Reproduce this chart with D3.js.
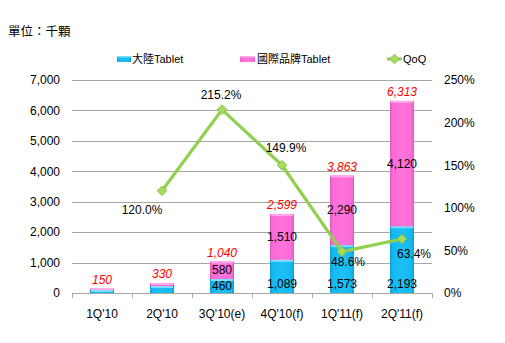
<!DOCTYPE html>
<html>
<head>
<meta charset="utf-8">
<script src="https://cdn.jsdelivr.net/npm/d3@7/dist/d3.min.js"></script>
<style>
  html, body { margin: 0; padding: 0; background: #fff; }
  svg { display: block; font-family: "Liberation Sans", Arial, "Noto Sans CJK TC", sans-serif; }
</style>
</head>
<body>
<svg id="chart" width="505" height="343"></svg>
<script>
// Quarterly tablet shipments (thousand units) and quarter-over-quarter growth
const quarters = ["1Q'10", "2Q'10", "3Q'10(e)", "4Q'10(f)", "1Q'11(f)", "2Q'11(f)"];
const chinaTablet = [100, 230, 460, 1089, 1573, 2193];
const brandTablet = [50, 100, 580, 1510, 2290, 4120];
const totals = [150, 330, 1040, 2599, 3863, 6313];
const qoq = [null, 1.200, 2.152, 1.499, 0.486, 0.634];
const qoqLabels = [null, "120.0%", "215.2%", "149.9%", "48.6%", "63.4%"];
const leftTicks = [0, 1000, 2000, 3000, 4000, 5000, 6000, 7000];
const rightTicks = [0, 0.5, 1.0, 1.5, 2.0, 2.5];
const seriesNames = ["大陸Tablet", "國際品牌Tablet", "QoQ"];
const unitLabel = "單位：千顆";

const svg = d3.select("#chart");
const plot = { left: 72, right: 432, top: 80, bottom: 293 };

const x = d3.scaleBand().domain(quarters).range([plot.left, plot.right])
  .paddingInner(0.6).paddingOuter(0.3);
const step = x.step();
const y = d3.scaleLinear().domain([0, 7000]).range([plot.bottom, plot.top]);
const y2 = d3.scaleLinear().domain([0, 2.5]).range([plot.bottom, plot.top]);

// Gradients giving the bars a bevelled look
const defs = svg.append("defs");
function barGradient(id, edge, mid, light) {
  const g = defs.append("linearGradient").attr("id", id)
    .attr("x1", "0").attr("x2", "1").attr("y1", "0").attr("y2", "0");
  g.append("stop").attr("offset", "0%").attr("stop-color", edge);
  g.append("stop").attr("offset", "12%").attr("stop-color", mid);
  g.append("stop").attr("offset", "50%").attr("stop-color", light);
  g.append("stop").attr("offset", "88%").attr("stop-color", mid);
  g.append("stop").attr("offset", "100%").attr("stop-color", edge);
}
barGradient("gBlue", "#0f9fd6", "#14b9f0", "#1cc0f4");
barGradient("gPink", "#e25cc0", "#fb6bd6", "#ff74da");

// Unit label
svg.append("text").attr("x", 8).attr("y", 36)
  .attr("font-size", 12.5).attr("fill", "#000")
  .style("font-family", "'Noto Sans CJK TC', sans-serif")
  .text(unitLabel);

// Horizontal gridlines
svg.append("g").selectAll("line").data(leftTicks.slice(1)).join("line")
  .attr("x1", plot.left).attr("x2", plot.right)
  .attr("y1", d => Math.round(y(d)) + 0.5).attr("y2", d => Math.round(y(d)) + 0.5)
  .attr("stroke", "#a6a6a6").attr("stroke-width", 1);

// Left axis
const leftAxis = svg.append("g").attr("transform", `translate(${plot.left - 12},0)`)
  .call(d3.axisLeft(y).tickValues(leftTicks).tickSize(0).tickPadding(0)
    .tickFormat(d3.format(",")));
leftAxis.select(".domain").remove();
leftAxis.selectAll("text").attr("font-size", 12).attr("fill", "#000")
  .style("font-family", "'Liberation Sans', Arial, sans-serif");

// Right axis
const rightAxis = svg.append("g").attr("transform", `translate(${plot.right + 12},0)`)
  .call(d3.axisRight(y2).tickValues(rightTicks).tickSize(0).tickPadding(0)
    .tickFormat(d3.format(".0%")));
rightAxis.select(".domain").remove();
rightAxis.selectAll("text").attr("font-size", 12).attr("fill", "#000")
  .style("font-family", "'Liberation Sans', Arial, sans-serif");

// Category axis line with ticks between categories
const xAxisG = svg.append("g");
xAxisG.append("line").attr("x1", plot.left).attr("x2", plot.right)
  .attr("y1", plot.bottom + 0.5).attr("y2", plot.bottom + 0.5)
  .attr("stroke", "#a6a6a6");
const boundaries = quarters.map(q => x(q) - (step - x.bandwidth()) / 2).concat([plot.right]);
xAxisG.selectAll("line.tk").data(boundaries).join("line").attr("class", "tk")
  .attr("x1", d => Math.round(d) + 0.5).attr("x2", d => Math.round(d) + 0.5)
  .attr("y1", plot.bottom).attr("y2", plot.bottom + 5)
  .attr("stroke", "#a6a6a6");
xAxisG.selectAll("text").data(quarters).join("text")
  .attr("x", d => x(d) + x.bandwidth() / 2).attr("y", plot.bottom + 25)
  .attr("text-anchor", "middle").attr("font-size", 12).attr("fill", "#000")
  .text(d => d);

// Stacked bars
const stackData = quarters.map((q, i) => ({ q, china: chinaTablet[i], brand: brandTablet[i] }));
const stacked = d3.stack().keys(["china", "brand"])(stackData);
const fills = { china: "url(#gBlue)", brand: "url(#gPink)" };
const tops = { china: "#7fdcfb", brand: "#ffaaea" };
stacked.forEach(layer => {
  const g = svg.append("g");
  g.selectAll("rect.bar").data(layer).join("rect").attr("class", "bar")
    .attr("x", d => x(d.data.q)).attr("width", x.bandwidth())
    .attr("y", d => y(d[1])).attr("height", d => y(d[0]) - y(d[1]))
    .attr("fill", fills[layer.key]);
  g.selectAll("rect.hl").data(layer).join("rect").attr("class", "hl")
    .attr("x", d => x(d.data.q) + 1).attr("width", x.bandwidth() - 2)
    .attr("y", d => y(d[1]))
    .attr("height", d => Math.min(2, y(d[0]) - y(d[1])))
    .attr("fill", tops[layer.key]);
});

// Segment value labels (only for quarters with room)
const segLabelFrom = 2;
const fmt = d3.format(",");
svg.append("g").selectAll("text").data(stacked[0].slice(segLabelFrom)).join("text")
  .attr("x", d => x(d.data.q) + x.bandwidth() / 2)
  .attr("y", d => Math.max((y(d[0]) + y(d[1])) / 2, y(0) - 9))
  .attr("dy", "0.35em").attr("text-anchor", "middle")
  .attr("font-size", 12).attr("fill", "#000")
  .text(d => fmt(d.data.china));
svg.append("g").selectAll("text").data(stacked[1].slice(segLabelFrom)).join("text")
  .attr("x", d => x(d.data.q) + x.bandwidth() / 2)
  .attr("y", d => (y(d[0]) + y(d[1])) / 2)
  .attr("dy", "0.35em").attr("text-anchor", "middle")
  .attr("font-size", 12).attr("fill", "#000")
  .text(d => fmt(d.data.brand));

// Totals above bars
svg.append("g").selectAll("text").data(quarters).join("text")
  .attr("x", d => x(d) + x.bandwidth() / 2)
  .attr("y", (d, i) => y(totals[i]) - 9)
  .attr("dy", "0.35em").attr("text-anchor", "middle")
  .attr("font-size", 12).attr("font-style", "italic").attr("fill", "#ff0000")
  .text((d, i) => fmt(totals[i]));

// QoQ line
const linePts = quarters.map((q, i) => ({ q, v: qoq[i], label: qoqLabels[i] }))
  .filter(d => d.v !== null);
const cx = d => x(d.q) + x.bandwidth() / 2;
svg.append("path").datum(linePts)
  .attr("d", d3.line().x(cx).y(d => y2(d.v)))
  .attr("fill", "none").attr("stroke", "#92cf50").attr("stroke-width", 3.2)
  .attr("stroke-linejoin", "round");
const diamond = d3.symbol().type(d3.symbolDiamond2).size(60);
svg.append("g").selectAll("path").data(linePts).join("path")
  .attr("transform", d => `translate(${cx(d)},${y2(d.v)})`)
  .attr("d", diamond).attr("fill", "#a5dc5e").attr("stroke", "#7fb83c").attr("stroke-width", 0.8);

// QoQ value labels, placed around each point
const labelOffsets = [[-20, 19], [-1, -15], [4, -17], [6, 10], [12, 15]];
svg.append("g").selectAll("text").data(linePts).join("text")
  .attr("x", (d, i) => cx(d) + labelOffsets[i][0])
  .attr("y", (d, i) => y2(d.v) + labelOffsets[i][1])
  .attr("dy", "0.35em").attr("text-anchor", "middle")
  .attr("font-size", 12).attr("fill", "#000")
  .text(d => d.label);

// Legend
const legend = svg.append("g").attr("font-size", 11)
  .style("font-family", "'Liberation Sans', Arial, 'Noto Sans CJK TC', sans-serif");
const legendX = [117, 240, 387];
legend.append("rect").attr("x", legendX[0]).attr("y", 56).attr("width", 14).attr("height", 6)
  .attr("fill", "url(#gBlue)");
legend.append("rect").attr("x", legendX[0]).attr("y", 56).attr("width", 14).attr("height", 1.5)
  .attr("fill", tops.china);
legend.append("rect").attr("x", legendX[1]).attr("y", 56).attr("width", 15).attr("height", 6)
  .attr("fill", "url(#gPink)");
legend.append("rect").attr("x", legendX[1]).attr("y", 56).attr("width", 15).attr("height", 1.5)
  .attr("fill", tops.brand);
legend.append("line").attr("x1", legendX[2]).attr("x2", legendX[2] + 15)
  .attr("y1", 59).attr("y2", 59).attr("stroke", "#92cf50").attr("stroke-width", 3);
legend.append("path").attr("transform", `translate(${legendX[2] + 7.5},59)`)
  .attr("d", diamond).attr("fill", "#a5dc5e").attr("stroke", "#7fb83c").attr("stroke-width", 0.8);
const textX = [132, 257, 403];
seriesNames.forEach((n, i) => {
  legend.append("text").attr("x", textX[i]).attr("y", 59).attr("dy", "0.35em")
    .attr("fill", "#000").text(n);
});
</script>
</body>
</html>
